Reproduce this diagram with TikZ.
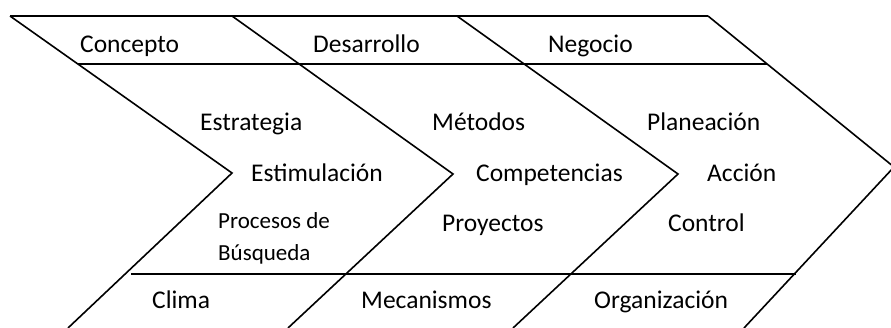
\documentclass[tikz,border=0pt]{standalone}
\usepackage{fontspec}
\setmainfont{Carlito}
\begin{document}
\begin{tikzpicture}[x=1pt,y=-1pt,
  edge/.style={line width=1.6pt, line join=miter},
  lbl/.style={anchor=base west, inner sep=0pt, font=\fontsize{25.5}{30}\selectfont},
  lblsmall/.style={anchor=base west, inner sep=0pt, font=\fontsize{23}{30}\selectfont}]
\useasboundingbox (0,0) rectangle (891,327);
% chevron corner points
\coordinate (a1) at (10,16);  \coordinate (t1) at (232,173); \coordinate (b1) at (68,328);
\coordinate (a2) at (232,16); \coordinate (t2) at (453,174); \coordinate (b2) at (288,328);
\coordinate (a3) at (457,16); \coordinate (t3) at (678,174); \coordinate (b3) at (513,328);
\coordinate (a4) at (708,16); \coordinate (t4) at (894,167); \coordinate (b4) at (744,328);
% band line ends
\coordinate (m1) at (78,64);   \coordinate (m2) at (767,64);
\coordinate (n1) at (131,274); \coordinate (n2) at (796,274);
% chevrons
\draw[edge] (a1) -- (t1) -- (b1);
\draw[edge] (a2) -- (t2) -- (b2);
\draw[edge] (a3) -- (t3) -- (b3);
\draw[edge] (a4) -- (t4) -- (b4);
% horizontal lines
\draw[edge] (a1) -- (a4);
\draw[edge] (m1) -- (m2);
\draw[edge] (n1) -- (n2);
% labels
\node[lbl] (concepto) at (80,52) {Concepto};
\node[lbl] (desarrollo) at (313,52) {Desarrollo};
\node[lbl] (negocio) at (548,52) {Negocio};
\node[lbl] (estrategia) at (200,130) {Estrategia};
\node[lbl] (metodos) at (432,130) {Métodos};
\node[lbl] (planeacion) at (647,130) {Planeación};
\node[lbl] (estimulacion) at (251,181) {Estimulación};
\node[lbl] (competencias) at (476,181) {Competencias};
\node[lbl] (accion) at (707,181) {Acción};
\node[lblsmall] (procesos) at (218,228) {Procesos de};
\node[lblsmall] (busqueda) at (218,260) {Búsqueda};
\node[lbl] (proyectos) at (442,231) {Proyectos};
\node[lbl] (control) at (668,231) {Control};
\node[lbl] (clima) at (152,308) {Clima};
\node[lbl] (mecanismos) at (361,308) {Mecanismos};
\node[lbl] (organizacion) at (594,308) {Organización};
\end{tikzpicture}
\end{document}
